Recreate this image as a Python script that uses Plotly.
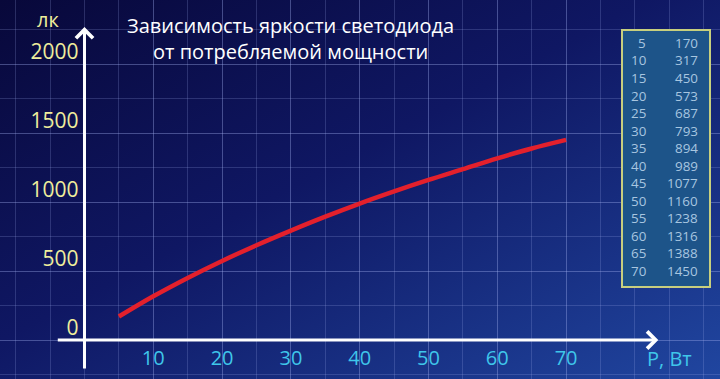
import base64
import plotly.graph_objects as go

# ---- data ----
power_w = [5, 10, 15, 20, 25, 30, 35, 40, 45, 50, 55, 60, 65, 70]
lux = [170, 317, 450, 573, 687, 793, 894, 989, 1077, 1160, 1238, 1316, 1388, 1450]
x_ticks = [10, 20, 30, 40, 50, 60, 70]
y_ticks = [0, 500, 1000, 1500, 2000]
title_lines = ["Зависимость яркости светодиода", "от потребляемой мощности"]
y_unit = "лк"
x_unit = "P, Вт"

W, H = 720, 379
X_RANGE = [-12.28, 92.37]
Y_RANGE = [-282.6, 2463.8]

FONT = "Open Sans, Lato, sans-serif"
YEL = "#efee9c"
CYAN = "#3fc6ea"

# background gradient as svg image
svg = f'''<svg xmlns="http://www.w3.org/2000/svg" width="{W}" height="{H}" viewBox="0 0 {W} {H}" preserveAspectRatio="none">
<defs><linearGradient id="g" x1="0" y1="0" x2="1" y2="1">
<stop offset="0" stop-color="#08083a"/>
<stop offset="0.45" stop-color="#0f1763"/>
<stop offset="1" stop-color="#2046a0"/>
</linearGradient></defs>
<rect width="{W}" height="{H}" fill="url(#g)"/></svg>'''
bg_src = "data:image/svg+xml;base64," + base64.b64encode(svg.encode()).decode()

fig = go.Figure()
fig.add_trace(go.Scatter(
    x=power_w, y=lux, mode="lines",
    line=dict(color="#e3202c", width=4.5, shape="spline"),
    hoverinfo="skip", showlegend=False,
))

grid_col = "rgba(160,175,235,0.22)"
fig.update_layout(
    width=W, height=H,
    margin=dict(l=0, r=0, t=0, b=0),
    paper_bgcolor="#0c1250",
    plot_bgcolor="rgba(0,0,0,0)",
    showlegend=False,
    images=[dict(source=bg_src, xref="paper", yref="paper", x=0, y=1,
                 sizex=1, sizey=1, sizing="stretch", layer="below", xanchor="left", yanchor="top")],
    xaxis=dict(
        range=X_RANGE, anchor="free", position=(H - 340) / H,
        tickmode="array", tickvals=x_ticks, ticktext=[str(v) for v in x_ticks],
        tickfont=dict(family=FONT, size=20, color=CYAN),
        ticks="", ticklabelstandoff=4,
        showgrid=True, gridcolor=grid_col, gridwidth=1,
        minor=dict(tickmode="linear", tick0=0, dtick=5, showgrid=True, gridcolor=grid_col, gridwidth=1, ticks=""),
        zeroline=False, showline=False, fixedrange=True,
    ),
    yaxis=dict(
        range=Y_RANGE, anchor="free", position=84.5 / W,
        tickmode="array", tickvals=y_ticks, ticktext=[str(v) for v in y_ticks],
        tickfont=dict(family=FONT, size=21, color=YEL),
        ticks="", ticklabelstandoff=6, ticklabelshift=-12,
        showgrid=True, gridcolor=grid_col, gridwidth=1,
        minor=dict(tickmode="linear", tick0=0, dtick=250, showgrid=True, gridcolor=grid_col, gridwidth=1, ticks=""),
        zeroline=False, showline=False, fixedrange=True,
    ),
)

# axis arrows
fig.add_annotation(x=0, y=2268, ax=0, ay=-217, xref="x", yref="y", axref="x", ayref="y",
                   text="", showarrow=True, arrowhead=4, arrowsize=1.1, arrowwidth=3,
                   arrowcolor="white", standoff=0)
fig.add_annotation(x=83.4, y=0, ax=-4.1, ay=0, xref="x", yref="y", axref="x", ayref="y",
                   text="", showarrow=True, arrowhead=4, arrowsize=1.1, arrowwidth=3,
                   arrowcolor="white", standoff=0)


def label(x, y, text, size, color, xanchor="center"):
    fig.add_annotation(x=x / W, y=1 - y / H, xref="paper", yref="paper", text=text,
                       xanchor=xanchor, yanchor="middle", showarrow=False, borderpad=0,
                       font=dict(family=FONT, size=size, color=color))


# axis unit labels
label(48, 20, y_unit, 20, YEL)
label(669, 358, x_unit, 20, CYAN)

# title
for i, line in enumerate(title_lines):
    label(290, 26 + 26 * i, line, 20, "white")

# data table box
fig.add_shape(type="rect", xref="paper", yref="paper",
              x0=622 / W, x1=710 / W, y0=1 - 287 / H, y1=1 - 30 / H,
              fillcolor="#1d5489", line=dict(color="#c7cf7e", width=2), layer="above")
for i, (p, l) in enumerate(zip(power_w, lux)):
    yy = 43 + 17.5 * i
    label(647, yy, str(p), 13.4, "#a8c6e0", xanchor="right")
    label(699, yy, str(l), 13.4, "#a8c6e0", xanchor="right")

fig.write_html("out.html")
